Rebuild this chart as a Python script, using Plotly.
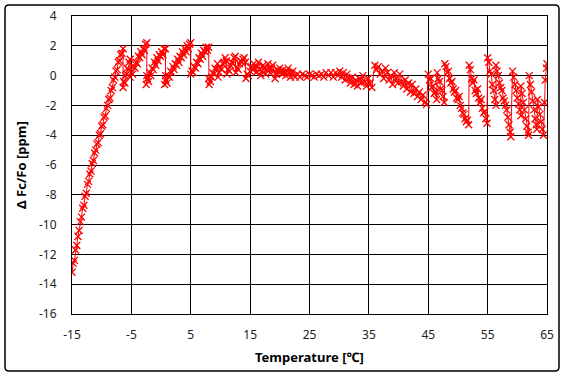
import plotly.graph_objects as go

# (temperature [°C], delta Fc/Fo [ppm]) readings, by region
rise = [(-15.0,-13.2),(-14.8,-12.6),(-14.6,-12.4),(-14.4,-11.7),(-14.2,-11.4),(-14.0,-10.8),(-13.8,-10.4),
        (-13.6,-9.8),(-13.4,-9.5),(-13.2,-8.9),(-13.0,-8.7),(-12.8,-8.1),(-12.6,-7.9),(-12.4,-7.3),
        (-12.2,-7.1),(-12.0,-6.6),(-11.8,-6.4),(-11.6,-5.9),(-11.4,-5.7),(-11.2,-5.2),(-11.0,-5.0),
        (-10.8,-4.6),(-10.6,-4.5),(-10.4,-4.0),(-10.2,-3.9),(-10.0,-3.4),(-9.8,-3.3),(-9.6,-2.8),
        (-9.4,-2.7),(-9.2,-2.2),(-9.0,-2.0),(-8.8,-1.6),(-8.6,-1.5),(-8.4,-1.0),(-8.2,-0.8),(-8.0,-0.3),
        (-7.8,-0.1),(-7.6,0.3),(-7.4,0.4),(-7.2,0.9),(-7.0,1.0),(-6.8,1.4),(-6.6,1.5),(-6.4,1.8)]

saw = [(-6.4,-0.8),(-6.3,-0.4),(-6.1,-0.5),(-6.0,0.0),(-5.8,0.1),(-5.7,0.5),(-5.5,0.4),(-5.4,0.9),(-5.2,1.1),
       (-5.2,-0.1),(-5.0,0.2),(-4.8,0.1),(-4.6,0.6),(-4.4,0.5),(-4.2,0.9),(-4.0,0.8),(-3.8,1.3),(-3.6,1.2),
       (-3.4,1.6),(-3.2,1.4),(-3.0,1.8),(-2.8,1.7),(-2.6,2.1),(-2.4,2.2),
       (-2.4,0.0),(-2.5,-0.6),(-2.3,-0.2),(-2.1,-0.4),(-1.9,0.2),(-1.7,0.0),(-1.5,0.5),(-1.3,0.4),(-1.1,0.9),
       (-0.9,0.7),(-0.7,1.2),(-0.5,1.0),(-0.3,1.4),(-0.1,1.3),(0.1,1.6),(0.3,1.4),(0.5,1.8),(0.75,1.8),
       (0.75,0.0),(0.6,-0.6),(0.8,-0.3),(1.0,-0.5),(1.2,0.0),(1.4,-0.1),(1.6,0.3),(1.8,0.2),(2.0,0.6),
       (2.2,0.4),(2.4,0.8),(2.6,0.7),(2.8,1.1),(3.0,0.9),(3.2,1.3),(3.4,1.2),(3.6,1.6),(3.8,1.4),(4.0,1.8),
       (4.2,1.6),(4.4,2.0),(4.6,1.8),(4.8,2.1),(5.0,2.2),
       (5.0,0.1),(5.2,0.3),(5.4,0.2),(5.6,0.6),(5.8,0.5),(6.0,0.9),(6.2,0.8),(6.4,1.2),(6.6,1.1),(6.8,1.5),
       (7.0,1.3),(7.2,1.7),(7.4,1.6),(7.6,1.9),(7.8,1.7),(8.0,1.9),
       (8.0,-0.2),(8.1,-0.6)]

band_low = [(8.3,-0.4),(8.5,-0.1),(8.7,0.2),(8.9,0.1),(9.1,0.5),(9.3,0.4),(9.5,0.8),(9.6,-0.1),(9.8,0.2),
            (10.0,0.5),(10.2,0.4),(10.4,0.8),(10.6,0.9),(10.8,1.2),(11.0,1.0),(11.1,0.1),(11.3,0.4),
            (11.5,0.3),(11.7,0.7),(11.9,0.9),(12.1,0.8),(12.3,1.2),(12.5,1.3),(12.6,0.2),(12.8,0.5),
            (13.0,0.4),(13.2,0.8),(13.4,1.0),(13.6,0.9),(13.8,1.1),(14.0,1.2),(14.2,0.9),(14.3,-0.2),
            (14.5,0.1),(14.7,0.0)]

band_mid = [(15.0,0.3),(15.2,0.6),(15.4,0.4),(15.6,0.8),(15.8,0.5),(16.0,0.2),(16.2,0.6),(16.4,0.9),
            (16.6,0.4),(16.8,0.0),(17.0,0.3),(17.2,0.7),(17.4,0.5),(17.6,0.1),(17.8,0.4),(18.0,0.8),
            (18.2,0.5),(18.4,0.2),(18.6,0.5),(18.8,0.7),(19.0,0.3),(19.2,-0.2),(19.4,0.1),
            (19.6,0.4),(19.8,0.2),(20.0,0.5),(20.2,0.3),(20.4,0.1),(20.6,0.4),(20.8,0.2),(21.0,0.0),
            (21.2,0.3),(21.4,0.5),(21.6,0.2),(21.8,-0.1),(22.0,0.2),(22.2,0.3),(22.4,0.0)]

flat = [(22.6,-0.1),(23.0,0.1),(23.4,-0.1),(23.8,0.1),(24.2,0.0),(24.6,-0.1),(25.0,0.1),(25.4,0.0),
        (25.8,-0.1),(26.2,0.1),(26.6,0.0),(27.0,0.1),(27.4,-0.1),(27.8,0.2),(28.2,0.0),(28.6,0.2),
        (29.0,-0.1),(29.4,0.2),(29.8,0.0),(30.1,0.3),(30.4,-0.1),(30.7,0.2),(31.0,-0.3),(31.3,0.1),
        (31.6,-0.2),(31.9,-0.5),(32.2,-0.1),(32.5,-0.6),(32.8,-0.3),(33.1,-0.7),(33.4,-0.2),(33.7,-0.5),
        (34.0,0.0),(34.3,-0.4),(34.6,-0.7),(34.9,-0.2),(35.2,-0.5),(35.5,-0.8)]

decline = [(36.0,0.7),(36.3,0.4),(36.6,0.6),(36.9,0.1),(37.2,0.3),(37.5,-0.2),(37.8,0.5),(38.1,0.2),
           (38.4,-0.3),(38.7,0.0),(39.0,-0.6),(39.3,0.2),(39.6,-0.2),(39.9,-0.5),(40.2,0.1),(40.5,-0.4),
           (40.8,-0.7),(41.1,-0.3),(41.4,-0.9),(41.7,-0.5),(42.0,-1.1),(42.3,-0.6),(42.6,-1.2),(42.9,-0.9),
           (43.2,-1.4),(43.5,-1.1),(43.8,-1.6),(44.1,-1.3),(44.4,-1.8),(44.7,-1.95)]

teeth = [(45.0,0.1),(45.2,-0.3),(45.4,-0.2),(45.6,-0.8),(45.8,-0.7),(46.0,-1.2),(46.2,-1.1),(46.4,-1.6),
         (46.5,0.2),(46.7,-0.2),(46.9,-0.4),(47.1,-0.9),(47.3,-1.0),(47.5,-1.4),(47.7,-1.8),
         (47.8,0.8),(48.0,0.6),(48.2,0.2),(48.4,0.3),(48.6,-0.2),(48.8,-0.5),(49.0,-0.4),(49.2,-0.9),
         (49.4,-1.1),(49.6,-1.0),(49.8,-1.5),(50.0,-1.6),(50.2,-1.4),(50.4,-2.0),(50.6,-2.2),(50.8,-2.5),
         (51.0,-2.6),(51.2,-2.9),(51.4,-3.1),(51.6,-3.0),(51.8,-3.3),
         (51.9,0.7),(52.1,0.4),(52.3,-0.2),(52.5,-0.5),(52.7,-0.3),(52.9,-1.0),(53.1,-1.2),(53.3,-0.9),
         (53.5,-1.5),(53.7,-1.8),(53.9,-1.6),(54.1,-2.2),(54.3,-2.5),(54.5,-2.4),(54.7,-2.9),(54.9,-3.2),
         (55.0,1.2),(55.2,0.9),(55.4,0.3),(55.6,0.1),(55.8,-0.6),(56.0,-1.0),(56.2,-1.6),(56.4,-2.0),
         (56.4,0.7),(56.6,0.3),(56.8,0.0),(57.0,-0.5),(57.2,-0.8),(57.4,-1.0),(57.6,-1.5),(57.8,-1.7),
         (58.0,-2.0),(58.2,-2.3),(58.4,-2.8),(58.6,-3.3),(58.8,-3.8),(58.9,-4.1),
         (59.2,0.3),(59.4,-0.1),(59.6,-0.6),(59.8,-1.0),(60.0,-1.5),(60.2,-1.9),(60.4,-2.3),(60.6,-2.7),
         (60.6,-0.7),(60.8,-1.2),(61.0,-1.8),(61.2,-2.3),(61.4,-2.9),(61.6,-3.4),(61.8,-3.8),(61.9,-4.0),
         (62.0,0.0),(62.2,-0.6),(62.4,-1.1),(62.6,-1.7),(62.8,-2.3),(63.0,-2.9),(63.2,-3.3),(63.3,-3.6),
         (63.4,-1.6),(63.6,-2.1),(63.8,-2.6),(64.0,-3.1),(64.2,-3.6),(64.4,-4.0),
         (64.6,-1.8),(64.7,-0.3),(64.9,0.5),(65.0,0.8)]

x_ticks = [-15, -5, 5, 15, 25, 35, 45, 55, 65]
y_ticks = [-16, -14, -12, -10, -8, -6, -4, -2, 0, 2, 4]
x_title = "Temperature [℃]"
y_title = "Δ Fc/Fo [ppm]"

segments = [rise, saw, band_low, band_mid, flat, decline, teeth]
temps = [p[0] for s in segments for p in s]
deltas = [p[1] for s in segments for p in s]

FONT = "Noto Sans, Open Sans, DejaVu Sans, sans-serif"
W, H = 567, 377
L, R, T, B = 72, 20, 16, 63
PW, PH = W - L - R, H - T - B

fig = go.Figure()
fig.add_trace(go.Scatter(
    x=temps, y=deltas, mode="lines+markers",
    line=dict(color="#ff0000", width=1),
    marker=dict(symbol="x-thin", size=7, line=dict(color="#ff0000", width=1.3), color="#ff0000"),
    showlegend=False, hoverinfo="x+y",
))

axis_common = dict(
    showgrid=True, gridcolor="black", gridwidth=1,
    showline=True, linecolor="black", linewidth=1, mirror=True,
    zeroline=False, ticks="", automargin=False,
    tickfont=dict(family=FONT, size=12, color="#222222"),
)
fig.update_xaxes(range=[-15, 65], tickvals=x_ticks, ticktext=[str(v) for v in x_ticks],
                 ticklabelstandoff=10, **axis_common)
fig.update_yaxes(range=[-16, 4], tickvals=y_ticks, ticktext=[str(v) for v in y_ticks],
                 ticklabelstandoff=12, **axis_common)

fig.add_annotation(text="<b>%s</b>" % x_title, xref="paper", yref="paper",
                   x=0.5, y=(T + PH - 357) / PH, xanchor="center", yanchor="middle",
                   showarrow=False, font=dict(family=FONT, size=13, color="black"))
fig.add_annotation(text="<b>%s</b>" % y_title, xref="paper", yref="paper",
                   x=(21 - L) / PW, y=0.5, xanchor="center", yanchor="middle", textangle=-90,
                   showarrow=False, font=dict(family=FONT, size=13, color="black"))

# outer chart frame with rounded corners (pixel -> paper)
def px(xp):
    return (xp - L) / PW
def py(yp):
    return (T + PH - yp) / PH
x0, x1, y0, y1, r = 5, 559, 5, 371, 4
path = (f"M {px(x0 + r)},{py(y0)} L {px(x1 - r)},{py(y0)} Q {px(x1)},{py(y0)} {px(x1)},{py(y0 + r)} "
        f"L {px(x1)},{py(y1 - r)} Q {px(x1)},{py(y1)} {px(x1 - r)},{py(y1)} "
        f"L {px(x0 + r)},{py(y1)} Q {px(x0)},{py(y1)} {px(x0)},{py(y1 - r)} "
        f"L {px(x0)},{py(y0 + r)} Q {px(x0)},{py(y0)} {px(x0 + r)},{py(y0)} Z")
fig.add_shape(type="path", xref="paper", yref="paper", path=path,
              line=dict(color="black", width=1.5), layer="below")

fig.update_layout(
    width=W, height=H,
    margin=dict(l=L, r=R, t=T, b=B),
    paper_bgcolor="white", plot_bgcolor="white",
)

fig.write_html("out.html", config={"displayModeBar": False},
               post_script="document.body.style.margin='0';document.body.style.overflow='hidden';")
